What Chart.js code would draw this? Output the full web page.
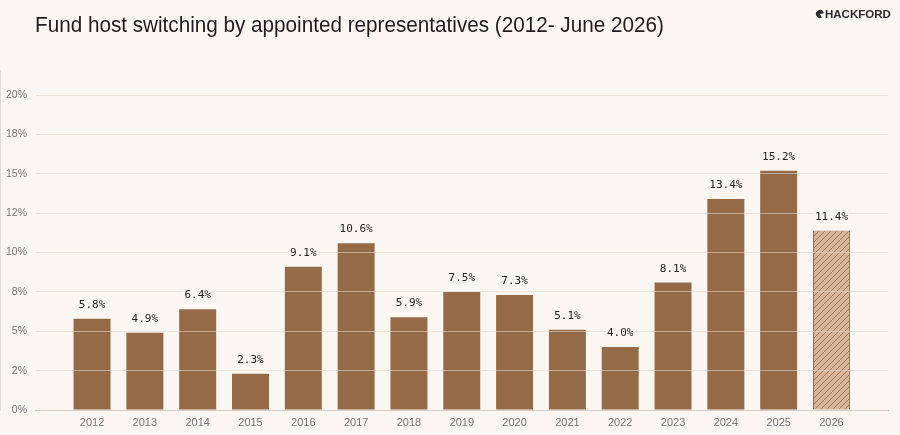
<!DOCTYPE html>
<html>
<head>
<meta charset="utf-8">
<script src="https://cdn.jsdelivr.net/npm/chart.js@4/dist/chart.umd.min.js"></script>
<style>
  html, body { margin: 0; padding: 0; background: #faf7f2; }
  #wrap { width: 900px; height: 435px; position: relative; }
</style>
</head>
<body>
<div id="wrap"><canvas id="switching"></canvas></div>
<script>
// ==========================
// DATA
// ==========================
const years = [2012, 2013, 2014, 2015, 2016, 2017, 2018, 2019, 2020, 2021, 2022, 2023, 2024, 2025, 2026];
const switchRates = [5.8, 4.9, 6.4, 2.3, 9.1, 10.6, 5.9, 7.5, 7.3, 5.1, 4.0, 8.1, 13.4, 15.2, 11.4];
const partialYear = 2026; // June 2026, drawn hatched
const yTickValues = [0, 2.5, 5, 7.5, 10, 12.5, 15, 17.5, 20];
const yTickLabels = ["0%", "2%", "5%", "8%", "10%", "12%", "15%", "18%", "20%"];
const chartTitle = "Fund host switching by appointed representatives (2012- June 2026)";
const brandName = "HACKFORD";

// ==========================
// COLOURS
// ==========================
const BG = "#faf7f2";
const BAR = "#956a47";
const HATCH_FILL = "#d7b398";
const HATCH_LINE = "#a47a5c";
const GRID = "rgba(225, 214, 200, 0.6)";
const AXIS = "#c9c1b8";

function makeHatch() {
  const size = 6;
  const c = document.createElement("canvas");
  c.width = size;
  c.height = size;
  const ctx = c.getContext("2d");
  ctx.fillStyle = HATCH_FILL;
  ctx.fillRect(0, 0, size, size);
  ctx.strokeStyle = HATCH_LINE;
  ctx.lineWidth = 1;
  ctx.beginPath();
  ctx.moveTo(0, size); ctx.lineTo(size, 0);
  ctx.moveTo(-1, 1); ctx.lineTo(1, -1);
  ctx.moveTo(size - 1, size + 1); ctx.lineTo(size + 1, size - 1);
  ctx.stroke();
  return document.getElementById("switching").getContext("2d").createPattern(c, "repeat");
}

const hatch = makeHatch();

// background + title + brand
const decorPlugin = {
  id: "decor",
  beforeDraw(chart) {
    const ctx = chart.ctx;
    ctx.save();
    ctx.fillStyle = BG;
    ctx.fillRect(0, 0, chart.width, chart.height);

    // title is a touch condensed in the original
    ctx.save();
    ctx.translate(35, 26);
    ctx.scale(0.94, 1);
    ctx.fillStyle = "#1e1e1e";
    ctx.font = "22px 'Liberation Sans', Arial, sans-serif";
    ctx.textBaseline = "middle";
    ctx.textAlign = "left";
    ctx.fillText(chartTitle, 0, 0);
    ctx.restore();

    // brand mark
    ctx.fillStyle = "#2a2a2a";
    ctx.beginPath();
    ctx.arc(820, 14, 4, 0.35 * Math.PI, 1.95 * Math.PI);
    ctx.lineTo(820, 14);
    ctx.closePath();
    ctx.fill();
    ctx.font = "bold 11.5px 'Liberation Sans', Arial, sans-serif";
    ctx.textBaseline = "middle";
    ctx.fillText(brandName, 825, 14.5);
    ctx.restore();
  },
};

// value labels over each bar (after grid, which sits above the bars)
const valueLabels = {
  id: "valueLabels",
  afterDraw(chart) {
    const ctx = chart.ctx;
    const meta = chart.getDatasetMeta(0);
    ctx.save();
    ctx.font = "11px 'DejaVu Sans Mono', monospace";
    ctx.textAlign = "center";
    ctx.textBaseline = "alphabetic";
    meta.data.forEach((bar, i) => {
      const txt = switchRates[i].toFixed(1) + "%";
      const w = ctx.measureText(txt).width;
      ctx.fillStyle = BG;
      ctx.fillRect(bar.x - w / 2 - 1, bar.y - 21, w + 2, 12);
      ctx.fillStyle = "#222";
      ctx.fillText(txt, bar.x, bar.y - 11);
    });
    ctx.restore();
  },
};

new Chart(document.getElementById("switching"), {
  type: "bar",
  data: {
    datasets: [
      {
        data: years.map((y, i) => ({ x: y, y: switchRates[i] })),
        backgroundColor: years.map((y) => (y === partialYear ? hatch : BAR)),
        borderColor: years.map((y) => (y === partialYear ? "#9c6f50" : BAR)),
        borderWidth: years.map((y) => (y === partialYear ? 1 : 0)),
        borderSkipped: false,
        categoryPercentage: 0.7,
        barPercentage: 1,
      },
    ],
  },
  options: {
    responsive: true,
    maintainAspectRatio: false,
    animation: false,
    layout: { padding: { top: 70, right: 12, left: 0, bottom: 0 } },
    plugins: {
      legend: { display: false },
      tooltip: { enabled: false },
    },
    scales: {
      x: {
        type: "linear",
        offset: false,
        min: 2010.92,
        max: 2027.07,
        afterBuildTicks: (scale) => {
          scale.ticks = years.map((v) => ({ value: v }));
        },
        afterFit: (scale) => {
          scale.height = 25;
        },
        grid: { display: false, drawTicks: false },
        border: { color: AXIS, width: 1 },
        ticks: {
          padding: 6,
          color: "#777",
          font: { family: "'Liberation Sans', Arial, sans-serif", size: 11 },
          callback: (v) => String(v),
        },
      },
      y: {
        min: 0,
        max: 21.6,
        afterBuildTicks: (scale) => {
          scale.ticks = yTickValues.map((v) => ({ value: v }));
        },
        afterFit: (scale) => {
          scale.width = 35;
        },
        grid: { color: GRID, drawTicks: false, z: 1 },
        border: { color: AXIS, width: 1 },
        ticks: {
          padding: 8,
          color: "#777",
          font: { family: "'Liberation Sans', Arial, sans-serif", size: 10.5 },
          callback: (v, i) => yTickLabels[i],
        },
      },
    },
  },
  plugins: [decorPlugin, valueLabels],
});
</script>
</body>
</html>
